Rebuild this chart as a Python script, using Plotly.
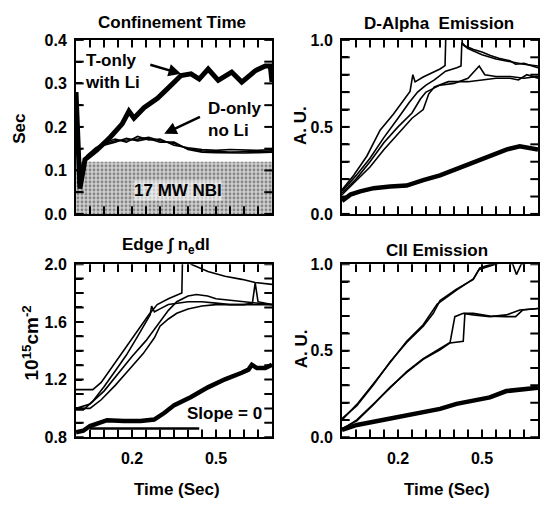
import plotly.graph_objects as go

FONT = "Liberation Sans"
W, H = 540, 512

# ---------------- shared time axis ----------------
T_RANGE = [0.0, 0.7]
X_TICKVALS = [0.05, 0.1, 0.15, 0.2, 0.25, 0.3, 0.35, 0.4, 0.45, 0.5, 0.55, 0.6, 0.65]
X_TICKTEXT = ["", "", "", "0.2", "", "", "", "", "", "0.5", "", "", ""]

# ---------------- Panel 1: Confinement Time ----------------
TAU_RANGE = [0.0, 0.4]
TAU_TICKVALS = [0.0, 0.05, 0.1, 0.15, 0.2, 0.25, 0.3, 0.35, 0.4]
TAU_TICKTEXT = ["0.0", "", "0.1", "", "0.2", "", "0.3", "", "0.4"]

tau_T_t = [0, 0.014, 0.032, 0.075, 0.123, 0.165, 0.189, 0.207, 0.243, 0.291, 0.327,
           0.375, 0.411, 0.44, 0.472, 0.508, 0.556, 0.592, 0.64, 0.676, 0.694, 0.70]
tau_T_v = [0.28, 0.058, 0.125, 0.147, 0.177, 0.207, 0.236, 0.220, 0.244, 0.266, 0.288,
           0.318, 0.322, 0.310, 0.333, 0.307, 0.326, 0.303, 0.329, 0.340, 0.340, 0.303]

tau_D_t = [0.005, 0.02, 0.04, 0.07, 0.1, 0.14, 0.18, 0.22, 0.26, 0.3, 0.35, 0.4, 0.45,
           0.5, 0.55, 0.6, 0.65, 0.7]
tau_D1_v = [0.07, 0.10, 0.13, 0.150, 0.160, 0.168, 0.170, 0.172, 0.176, 0.168, 0.162,
            0.150, 0.145, 0.143, 0.142, 0.143, 0.143, 0.145]
tau_D2_v = [0.08, 0.11, 0.135, 0.152, 0.163, 0.172, 0.165, 0.178, 0.170, 0.172, 0.158,
            0.152, 0.148, 0.146, 0.148, 0.147, 0.146, 0.148]
tau_D3_v = [0.09, 0.105, 0.128, 0.148, 0.158, 0.165, 0.174, 0.168, 0.173, 0.165, 0.165,
            0.148, 0.142, 0.141, 0.140, 0.140, 0.141, 0.142]

NBI_T = [0.0, 0.7]
NBI_LEVEL = 0.12

# ---------------- Panel 2: D-Alpha Emission ----------------
AU_RANGE = [0.0, 1.0]
AU_TICKVALS = [0.0, 0.1, 0.2, 0.3, 0.4, 0.5, 0.6, 0.7, 0.8, 0.9, 1.0]
AU_TICKTEXT = ["0.0", "", "", "", "", "0.5", "", "", "", "", "1.0"]

da_thick_t = [0, 0.03, 0.065, 0.113, 0.172, 0.231, 0.29, 0.35, 0.41, 0.469, 0.528,
              0.587, 0.635, 0.659, 0.7]
da_thick_v = [0.074, 0.111, 0.130, 0.148, 0.157, 0.163, 0.194, 0.222, 0.259, 0.296,
              0.333, 0.370, 0.389, 0.380, 0.370]

da1_t = [0, 0.042, 0.089, 0.136, 0.184, 0.219, 0.243, 0.253, 0.261, 0.29, 0.326, 0.35,
         0.368, 0.372, 0.425, 0.43, 0.45, 0.5, 0.55, 0.6, 0.65, 0.7]
da1_v = [0.139, 0.222, 0.333, 0.481, 0.574, 0.648, 0.704, 0.80, 0.759, 0.787, 0.815,
         0.833, 0.852, 1.10, 1.10, 0.975, 0.95, 0.915, 0.89, 0.875, 0.86, 0.85]
da2_t = [0, 0.05, 0.1, 0.15, 0.2, 0.24, 0.27, 0.3, 0.33, 0.37, 0.41, 0.425, 0.428,
         0.44, 0.47, 0.5, 0.53, 0.56, 0.6, 0.62, 0.65, 0.68, 0.7]
da2_v = [0.13, 0.22, 0.32, 0.44, 0.55, 0.64, 0.70, 0.74, 0.77, 0.82, 0.84, 0.85, 0.985,
         0.965, 0.945, 0.93, 0.91, 0.895, 0.88, 0.86, 0.865, 0.85, 0.84]
da3_t = [0, 0.05, 0.1, 0.15, 0.2, 0.25, 0.28, 0.3, 0.35, 0.4, 0.45, 0.49, 0.51, 0.55,
         0.6, 0.65, 0.7]
da3_v = [0.12, 0.20, 0.30, 0.41, 0.50, 0.58, 0.66, 0.70, 0.74, 0.75, 0.78, 0.85, 0.80,
         0.79, 0.79, 0.78, 0.79]
da4_t = [0, 0.05, 0.1, 0.15, 0.2, 0.25, 0.29, 0.31, 0.33, 0.38, 0.45, 0.5, 0.55, 0.6,
         0.63, 0.66, 0.7]
da4_v = [0.11, 0.19, 0.27, 0.37, 0.46, 0.55, 0.60, 0.69, 0.73, 0.76, 0.76, 0.77, 0.78,
         0.78, 0.77, 0.80, 0.78]

# ---------------- Panel 3: Edge line density ----------------
NE_RANGE = [0.8, 2.0]
NE_TICKVALS = [0.8, 0.9, 1.0, 1.1, 1.2, 1.3, 1.4, 1.5, 1.6, 1.7, 1.8, 1.9, 2.0]
NE_TICKTEXT = ["0.8", "", "", "", "1.2", "", "", "", "1.6", "", "", "", "2.0"]

ne_thick_t = [0, 0.026, 0.05, 0.087, 0.111, 0.171, 0.231, 0.279, 0.315, 0.351, 0.411,
              0.471, 0.532, 0.592, 0.616, 0.628, 0.646, 0.676, 0.7]
ne_thick_v = [0.834, 0.845, 0.878, 0.905, 0.918, 0.912, 0.912, 0.923, 0.968, 1.023,
              1.079, 1.146, 1.202, 1.247, 1.269, 1.303, 1.28, 1.28, 1.303]

ne1_t = [0, 0.06, 0.09, 0.13, 0.18, 0.23, 0.26, 0.29, 0.33, 0.378, 0.381, 0.41, 0.411,
         0.471, 0.532, 0.592, 0.64, 0.7]
ne1_v = [1.13, 1.13, 1.18, 1.29, 1.43, 1.57, 1.65, 1.72, 1.76, 1.80, 2.10, 2.10, 2.0,
         1.95, 1.917, 1.895, 1.873, 1.86]
ne2_t = [0, 0.026, 0.06, 0.1, 0.14, 0.18, 0.22, 0.25, 0.265, 0.27, 0.28, 0.3, 0.33,
         0.4, 0.45, 0.5, 0.55, 0.6, 0.63, 0.64, 0.65, 0.7]
ne2_v = [0.99, 0.99, 1.05, 1.15, 1.26, 1.37, 1.50, 1.60, 1.65, 1.71, 1.67, 1.69, 1.72,
         1.74, 1.74, 1.73, 1.72, 1.72, 1.73, 1.87, 1.74, 1.72]
ne3_t = [0, 0.05, 0.1, 0.15, 0.2, 0.25, 0.28, 0.3, 0.33, 0.36, 0.4, 0.43, 0.47, 0.5,
         0.55, 0.6, 0.65, 0.7]
ne3_v = [1.0, 1.03, 1.12, 1.24, 1.36, 1.47, 1.55, 1.60, 1.68, 1.74, 1.78, 1.79, 1.78,
         1.76, 1.75, 1.74, 1.73, 1.72]
ne4_t = [0, 0.05, 0.09, 0.14, 0.19, 0.24, 0.28, 0.3, 0.33, 0.36, 0.4, 0.45, 0.5, 0.55,
         0.6, 0.65, 0.7]
ne4_v = [1.0, 1.0, 1.06, 1.16, 1.27, 1.38, 1.49, 1.57, 1.62, 1.66, 1.69, 1.71, 1.72,
         1.72, 1.72, 1.72, 1.72]

SLOPE_T = [0.05, 0.44]
SLOPE_V = [0.86, 0.86]

# ---------------- Panel 4: CII Emission ----------------
cii_thick_t = [0, 0.053, 0.113, 0.172, 0.231, 0.29, 0.35, 0.409, 0.469, 0.528, 0.587,
               0.647, 0.7]
cii_thick_v = [0.043, 0.071, 0.090, 0.108, 0.127, 0.146, 0.164, 0.193, 0.211, 0.230,
               0.267, 0.277, 0.286]

cii1_t = [0, 0.053, 0.113, 0.172, 0.231, 0.29, 0.326, 0.35, 0.409, 0.469, 0.492, 0.528,
          0.587, 0.61, 0.623, 0.64, 0.7]
cii1_v = [0.108, 0.183, 0.305, 0.436, 0.548, 0.641, 0.716, 0.79, 0.856, 0.912, 0.978,
          0.996, 1.02, 1.0, 0.94, 1.0, 1.02]
cii2_t = [0, 0.053, 0.113, 0.172, 0.231, 0.29, 0.31, 0.34, 0.409, 0.469, 0.49, 0.528,
          0.587, 0.7]
cii2_v = [0.10, 0.19, 0.31, 0.43, 0.555, 0.65, 0.70, 0.77, 0.85, 0.915, 0.97, 0.99,
          1.02, 1.03]
cii3_t = [0, 0.053, 0.113, 0.172, 0.231, 0.29, 0.35, 0.386, 0.403, 0.433, 0.469, 0.528,
          0.587, 0.635, 0.7]
cii3_v = [0.043, 0.10, 0.193, 0.286, 0.379, 0.454, 0.51, 0.548, 0.697, 0.716, 0.707,
          0.697, 0.707, 0.735, 0.744]
cii4_t = [0, 0.053, 0.113, 0.172, 0.231, 0.29, 0.35, 0.386, 0.433, 0.439, 0.469, 0.528,
          0.587, 0.62, 0.645, 0.7]
cii4_v = [0.05, 0.095, 0.19, 0.29, 0.375, 0.45, 0.505, 0.545, 0.555, 0.716, 0.716, 0.70,
          0.697, 0.697, 0.735, 0.744]

# ---------------- text ----------------
TITLES = ["Confinement Time", "D-Alpha  Emission", "Edge \u222b n<sub>e</sub>dl", "CII Emission"]
Y_TITLES = ["Sec", "A. U.", "10<sup>15</sup>cm<sup>-2</sup>", "A. U."]
X_TITLE = "Time (Sec)"

# ---------------- figure ----------------
fig = go.Figure()
THICK = 4.5
THIN = 1.6


def add_line(t, v, ax, width):
    fig.add_trace(go.Scatter(x=t, y=v, mode="lines", xaxis="x" + ax, yaxis="y" + ax,
                             line=dict(color="black", width=width), showlegend=False,
                             hoverinfo="skip"))


def add_tick_marks(ax, yrange, ytickvals):
    """Inside tick marks on all four sides (clipped to the plot area)."""
    n, m = len(X_TICKVALS), len(ytickvals)
    fig.add_trace(go.Scatter(
        x=X_TICKVALS + X_TICKVALS, y=[yrange[0]] * n + [yrange[1]] * n,
        mode="markers", xaxis="x" + ax, yaxis="y" + ax, cliponaxis=True,
        marker=dict(symbol="line-ns", size=11, line=dict(width=2, color="black")),
        showlegend=False, hoverinfo="skip"))
    fig.add_trace(go.Scatter(
        x=[T_RANGE[0]] * m + [T_RANGE[1]] * m, y=ytickvals + ytickvals,
        mode="markers", xaxis="x" + ax, yaxis="y" + ax, cliponaxis=True,
        marker=dict(symbol="line-ew", size=11, line=dict(width=2, color="black")),
        showlegend=False, hoverinfo="skip"))


# NBI shading
fig.add_trace(go.Scatter(
    x=[NBI_T[0], NBI_T[1], NBI_T[1], NBI_T[0], NBI_T[0]],
    y=[0, 0, NBI_LEVEL, NBI_LEVEL, 0],
    mode="lines", fill="toself", line=dict(width=0), xaxis="x", yaxis="y",
    fillcolor="#b0b0b0",
    fillpattern=dict(shape=".", bgcolor="#cfcfcf", fgcolor="#3a3a3a", size=4, solidity=0.4),
    showlegend=False, hoverinfo="skip"))

for v in (tau_D1_v, tau_D2_v, tau_D3_v):
    add_line(tau_D_t, v, "", THIN)
add_line(tau_T_t, tau_T_v, "", THICK + 0.5)
add_tick_marks("", TAU_RANGE, TAU_TICKVALS)

for t, v in ((da1_t, da1_v), (da2_t, da2_v), (da3_t, da3_v), (da4_t, da4_v)):
    add_line(t, v, "2", THIN)
add_line(da_thick_t, da_thick_v, "2", THICK)
add_tick_marks("2", AU_RANGE, AU_TICKVALS)

for t, v in ((ne1_t, ne1_v), (ne2_t, ne2_v), (ne3_t, ne3_v), (ne4_t, ne4_v)):
    add_line(t, v, "3", THIN)
add_line(ne_thick_t, ne_thick_v, "3", THICK)
add_line(SLOPE_T, SLOPE_V, "3", 2.5)
add_tick_marks("3", NE_RANGE, NE_TICKVALS)

for t, v in ((cii1_t, cii1_v), (cii2_t, cii2_v), (cii3_t, cii3_v), (cii4_t, cii4_v)):
    add_line(t, v, "4", THIN)
add_line(cii_thick_t, cii_thick_v, "4", THICK)
add_tick_marks("4", AU_RANGE, AU_TICKVALS)

# axes
XL = [76 / W, 272 / W]
XR = [342 / W, 538 / W]
YT = [1 - 213 / H, 1 - 33 / H]
YB = [1 - 444 / H, 1 - 265 / H]

tickfont = dict(family=FONT, size=16, color="black", weight="bold")


def common():
    return dict(showgrid=False, zeroline=False, showline=True, linecolor="black",
                linewidth=2, mirror=True, ticks="inside", ticklen=6, tickwidth=2,
                tickcolor="black", tickfont=tickfont)


def xax(domain, anchor, labels):
    return dict(domain=domain, anchor=anchor, range=T_RANGE, tickmode="array",
                tickvals=X_TICKVALS, ticktext=X_TICKTEXT if labels else [""] * len(X_TICKVALS),
                ticklabelstandoff=6, **common())


def yax(domain, anchor, rng, tv, tt):
    return dict(domain=domain, anchor=anchor, range=rng, tickmode="array", tickvals=tv,
                ticktext=tt, ticklabelstandoff=4, **common())


fig.update_layout(
    width=W, height=H, margin=dict(l=0, r=0, t=0, b=0),
    paper_bgcolor="white", plot_bgcolor="white",
    xaxis=xax(XL, "y", False), yaxis=yax(YT, "x", TAU_RANGE, TAU_TICKVALS, TAU_TICKTEXT),
    xaxis2=xax(XR, "y2", False), yaxis2=yax(YT, "x2", AU_RANGE, AU_TICKVALS, AU_TICKTEXT),
    xaxis3=xax(XL, "y3", True), yaxis3=yax(YB, "x3", NE_RANGE, NE_TICKVALS, NE_TICKTEXT),
    xaxis4=xax(XR, "y4", True), yaxis4=yax(YB, "x4", AU_RANGE, AU_TICKVALS, AU_TICKTEXT),
)

bold = dict(family=FONT, size=17, color="black", weight="bold")


def paper_text(text, px, py, angle=0, size=17):
    fig.add_annotation(text=text, x=px / W, y=1 - py / H, xref="paper", yref="paper",
                       showarrow=False, textangle=angle, xanchor="center", yanchor="middle",
                       font=dict(family=FONT, size=size, color="black", weight="bold"))


paper_text(TITLES[0], 172, 15)
paper_text(TITLES[1], 439, 16)
paper_text(TITLES[2], 166, 246)
paper_text(TITLES[3], 437, 251)
paper_text(Y_TITLES[0], 20, 125, -90)
paper_text(Y_TITLES[1], 301, 122, -90)
paper_text(Y_TITLES[2], 31, 347, -90, 19)
paper_text(Y_TITLES[3], 301, 353, -90)
paper_text(X_TITLE, 177, 498)
paper_text(X_TITLE, 447, 498)

# panel annotations
fig.add_annotation(text="T-only<br>with Li", x=0.026, y=0.327, xref="x", yref="y",
                   xanchor="left", yanchor="middle", align="left", showarrow=False, font=bold)
fig.add_annotation(x=0.375, y=0.322, ax=0.26, ay=0.344, xref="x", yref="y", axref="x",
                   ayref="y", text="", showarrow=True, arrowhead=2, arrowsize=1,
                   arrowwidth=2.5, arrowcolor="black")
fig.add_annotation(text="D-only<br>no Li", x=0.466, y=0.216, xref="x", yref="y",
                   xanchor="left", yanchor="middle", align="left", showarrow=False, font=bold)
fig.add_annotation(x=0.315, y=0.184, ax=0.448, ay=0.225, xref="x", yref="y", axref="x",
                   ayref="y", text="", showarrow=True, arrowhead=2, arrowsize=1,
                   arrowwidth=2.5, arrowcolor="black")
fig.add_annotation(text="17 MW NBI", x=0.364, y=0.055, xref="x", yref="y",
                   showarrow=False, font=bold, bgcolor="rgba(255,255,255,0.55)", borderpad=0)
fig.add_annotation(text="Slope = 0", x=0.53, y=0.966, xref="x3", yref="y3",
                   showarrow=False, font=bold)

fig.write_html("out.html")
